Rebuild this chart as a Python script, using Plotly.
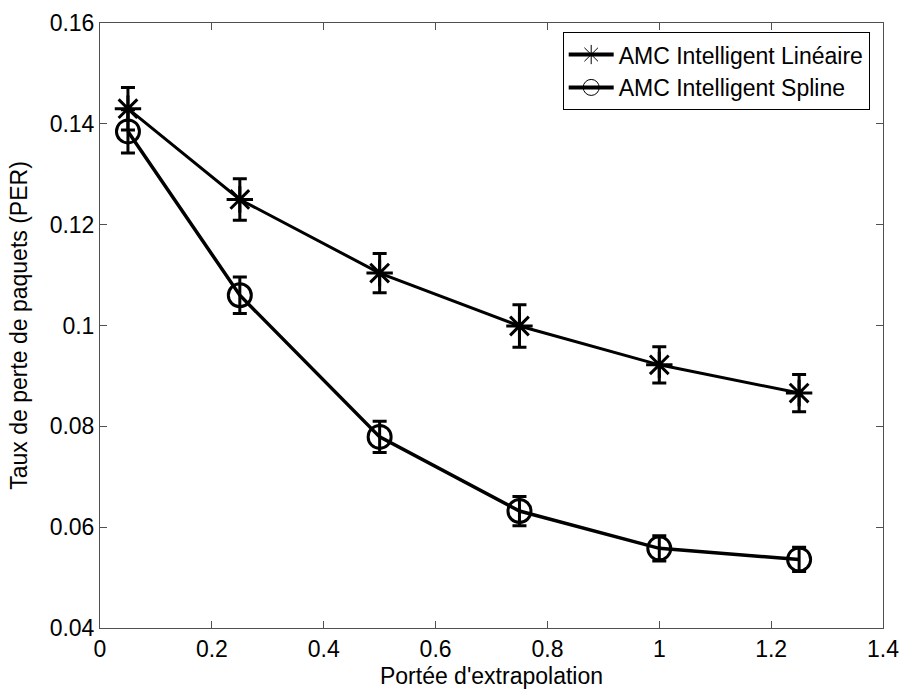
import plotly.graph_objects as go

# Extrapolation range (x) and packet error rate for the two AMC variants
portee = [0.05, 0.25, 0.5, 0.75, 1.0, 1.25]
per_lineaire = [0.143, 0.125, 0.1104, 0.0999, 0.0922, 0.0866]
err_lineaire = [0.0042, 0.0041, 0.0039, 0.0042, 0.0036, 0.0037]
per_spline = [0.1385, 0.1060, 0.0779, 0.0632, 0.0558, 0.0536]
err_spline = [0.0043, 0.0036, 0.0031, 0.0029, 0.0025, 0.0024]

series_names = ["AMC Intelligent Linéaire", "AMC Intelligent Spline"]

x_ticks = [0, 0.2, 0.4, 0.6, 0.8, 1.0, 1.2, 1.4]
x_ticktext = ["0", "0.2", "0.4", "0.6", "0.8", "1", "1.2", "1.4"]
y_ticks = [0.04, 0.06, 0.08, 0.10, 0.12, 0.14, 0.16]
y_ticktext = ["0.04", "0.06", "0.08", "0.1", "0.12", "0.14", "0.16"]

FONT = "Liberation Sans, Arial, sans-serif"
FS = 23

fig = go.Figure()

# Data curves with error bars (legend entries are drawn separately below)
fig.add_trace(go.Scatter(
    x=portee, y=per_lineaire,
    mode="lines+markers", showlegend=False,
    line=dict(color="black", width=3),
    marker=dict(symbol="asterisk-open", size=22, color="black",
                line=dict(color="black", width=3)),
    error_y=dict(type="data", array=err_lineaire, visible=True,
                 color="black", thickness=3, width=7),
))
fig.add_trace(go.Scatter(
    x=portee, y=per_spline,
    mode="lines+markers", showlegend=False,
    line=dict(color="black", width=3.5),
    marker=dict(symbol="circle-open", size=23, color="black",
                line=dict(color="black", width=3)),
    error_y=dict(type="data", array=err_spline, visible=True,
                 color="black", thickness=3, width=7),
))

# Legend keys: thick line with a thin-outlined marker
for name, sym in zip(series_names, ["asterisk-open", "circle-open"]):
    fig.add_trace(go.Scatter(
        x=[None], y=[None], mode="lines+markers", name=name,
        line=dict(color="black", width=4),
        marker=dict(symbol=sym, size=18, color="black",
                    line=dict(color="black", width=1)),
    ))

axis_common = dict(
    showgrid=False, zeroline=False, automargin=False,
    showline=True, linecolor="#505050", linewidth=1, mirror="ticks",
    ticks="inside", ticklen=7, tickcolor="#505050", tickwidth=1,
    tickfont=dict(family=FONT, size=FS, color="black"),
)

fig.update_xaxes(
    range=[0, 1.4], tickvals=x_ticks, ticktext=x_ticktext,
    title=dict(text="Portée d'extrapolation",
               font=dict(family=FONT, size=FS, color="black")),
    **axis_common,
)
fig.update_yaxes(
    range=[0.04, 0.16], tickvals=y_ticks, ticktext=y_ticktext,
    title=dict(text="Taux de perte de paquets (PER)",
               font=dict(family=FONT, size=FS, color="black")),
    **axis_common,
)

fig.update_layout(
    width=904, height=689,
    margin=dict(l=100, r=21, t=23, b=61),
    paper_bgcolor="white", plot_bgcolor="white",
    font=dict(family=FONT, color="black"),
    legend=dict(
        x=0.983, y=0.985, xanchor="right", yanchor="top",
        bgcolor="white", bordercolor="black", borderwidth=1,
        font=dict(family=FONT, size=FS, color="black"),
        tracegroupgap=0, itemwidth=45,
    ),
    showlegend=True,
)

fig.write_html("out.html")
